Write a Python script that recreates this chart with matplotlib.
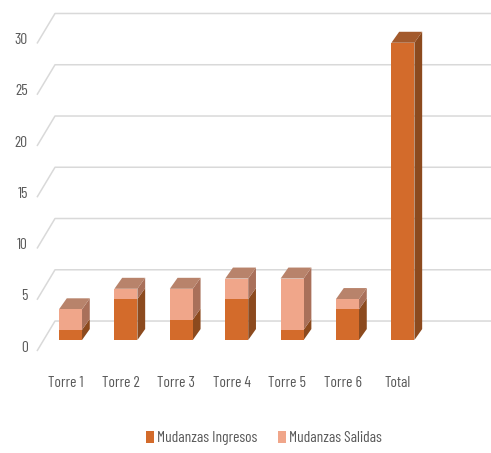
import numpy as np
import matplotlib
matplotlib.use('Agg')
import matplotlib.pyplot as plt
from matplotlib.patches import Polygon, Patch

plt.rcParams['font.family'] = ['Barlow Condensed', 'Archivo Narrow', 'DejaVu Sans']

categories = ['Torre 1', 'Torre 2', 'Torre 3', 'Torre 4', 'Torre 5', 'Torre 6', 'Total']
ingresos = [1, 4, 2, 4, 1, 3, 29]
salidas = [2, 1, 3, 2, 5, 1, 0]
y_ticks = [0, 5, 10, 15, 20, 25, 30]
series_names = ['Mudanzas Ingresos', 'Mudanzas Salidas']

# colours: front, side, top
c_ing = ('#D36B2B', '#8C4A1E', '#A35A2C')
c_sal = ('#F0A68A', '#A9705A', '#B8836B')
grid_c = '#D9D9D9'
txt_c = '#595959'
fs = 11.2

fig = plt.figure(figsize=(4.91, 4.53), dpi=100)
ax = fig.add_axes([0, 0, 1, 1])
ax.set_xlim(-1.273, 7.590)
ax.set_ylim(-11.02, 33.17)
ax.axis('off')

# pseudo-3D geometry (data units)
w = 0.415          # bar width
ddx, ddy = 0.14, 1.07   # bar depth offset
wall_front = (-0.605, -1.073)
wall_back = (-0.28, 1.854)

# back wall gridlines with slanted side-wall segment
for t in y_ticks:
    ax.plot([wall_front[0], wall_back[0], 7.6],
            [t + wall_front[1], t + wall_back[1], t + wall_back[1]],
            color=grid_c, lw=1.1, zorder=1, solid_capstyle='butt')
    ax.text(-0.77, t - 0.75, str(t), ha='right', va='center',
            fontsize=fs, color=txt_c)

x = np.arange(len(categories))


def box(xc, y0, y1, cols, top):
    xl, xr = xc - w / 2, xc + w / 2
    ax.add_patch(Polygon([(xr, y0), (xr + ddx, y0 + ddy), (xr + ddx, y1 + ddy), (xr, y1)],
                         closed=True, fc=cols[1], ec='none', zorder=3))
    if top:
        ax.add_patch(Polygon([(xl, y1), (xl + ddx, y1 + ddy), (xr + ddx, y1 + ddy), (xr, y1)],
                             closed=True, fc=cols[2], ec='none', zorder=3))


for i in range(len(categories)):
    a, b = ingresos[i], salidas[i]
    box(x[i], 0, a, c_ing, b == 0)
    if b > 0:
        box(x[i], a, a + b, c_sal, True)

ax.bar(x, ingresos, width=w, color=c_ing[0], zorder=4)
ax.bar(x, salidas, width=w, bottom=ingresos, color=c_sal[0], zorder=4)

for i, lab in enumerate(categories):
    ax.text(x[i] - 0.09, -4.2, lab, ha='center', va='center',
            fontsize=fs, color=txt_c)

handles = [Patch(fc=c_ing[0], ec='none'), Patch(fc=c_sal[0], ec='none')]
fig.legend(handles, series_names, loc='center', bbox_to_anchor=(0.537, 0.033),
           ncol=2, frameon=False, fontsize=fs, labelcolor=txt_c,
           handlelength=0.55, handleheight=0.85, handletextpad=0.15, columnspacing=1.35)

fig.savefig('out.png', dpi=100)
